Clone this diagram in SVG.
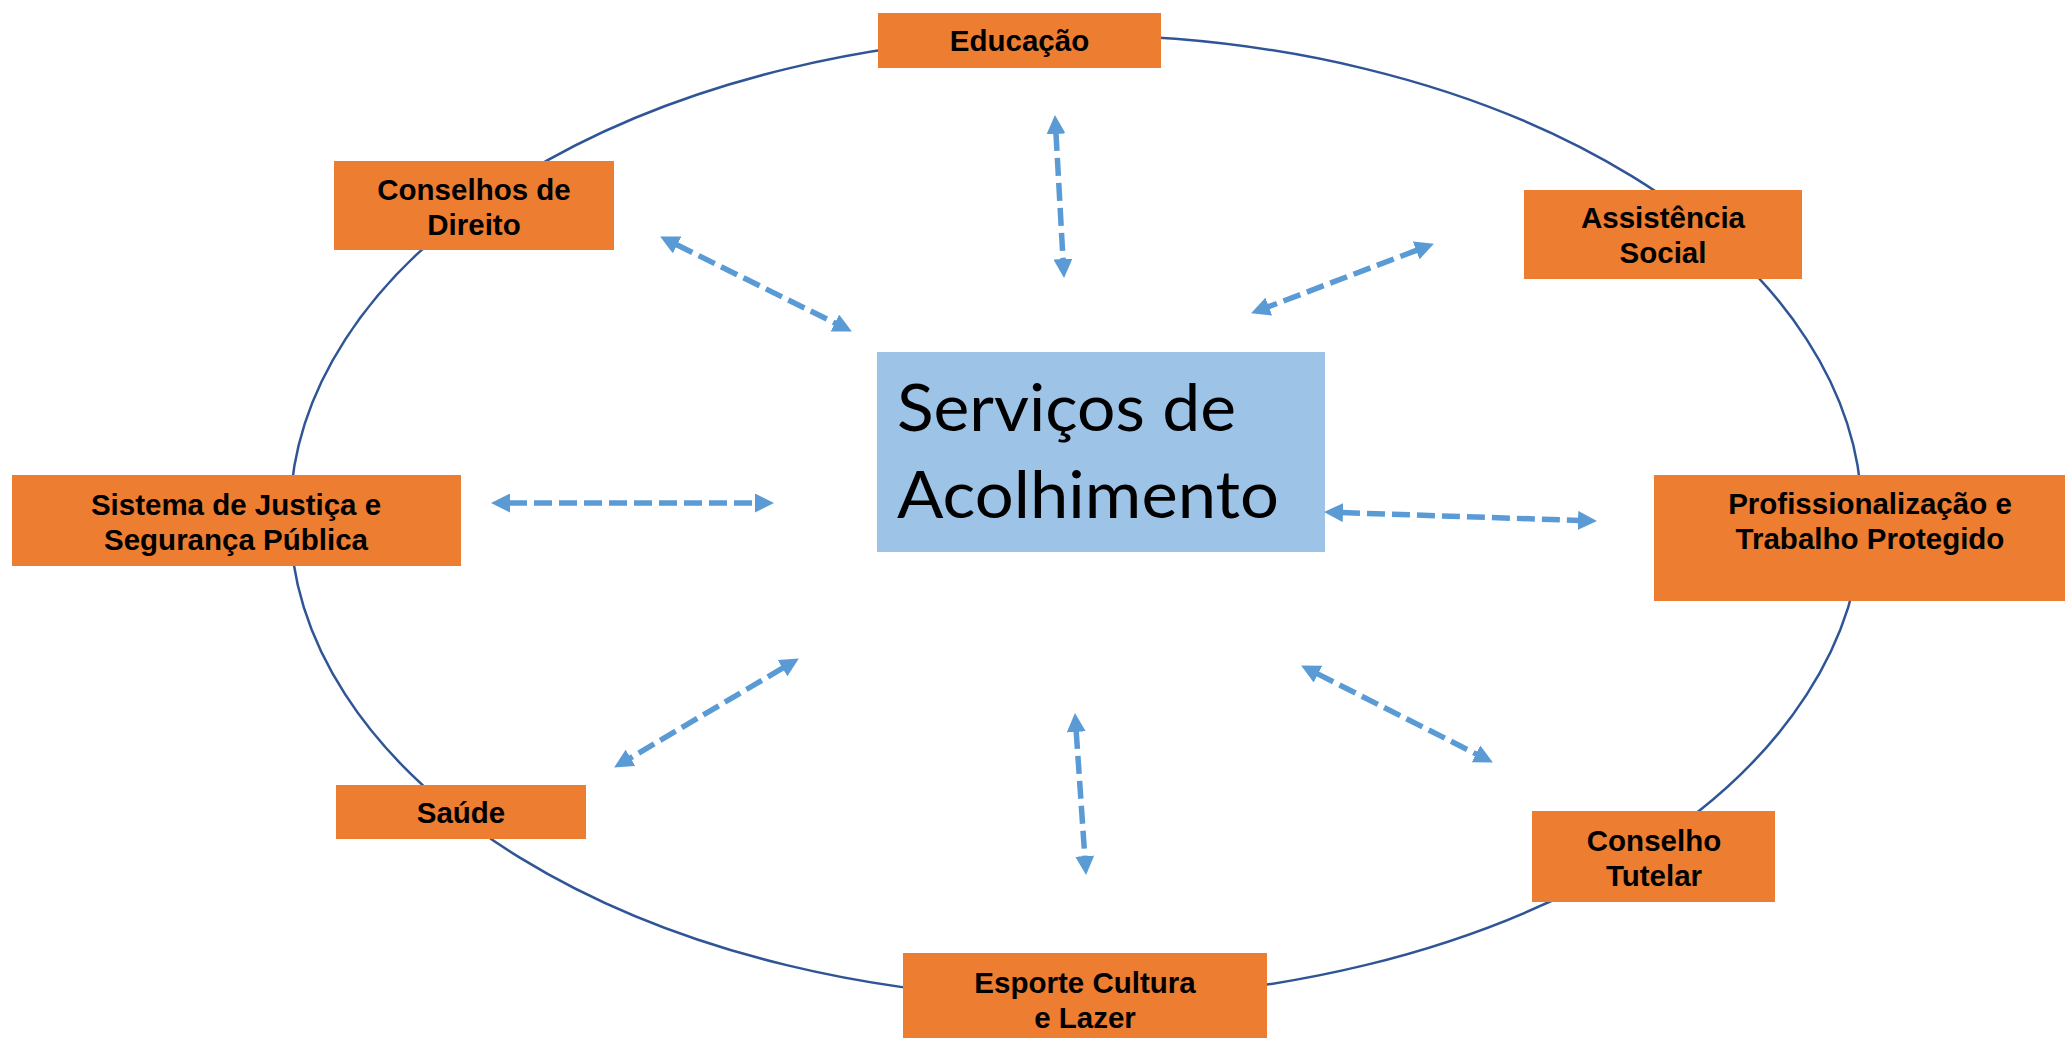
<svg xmlns="http://www.w3.org/2000/svg" width="2065" height="1038" viewBox="0 0 2065 1038">
  <style>
    .box { fill: #ED7D31; }
    .lbl { font-family: "Liberation Sans", Arial, sans-serif; font-weight: bold; font-size: 29.5px; fill: #000; text-anchor: middle; }
    .center { fill: #9DC3E6; }
    .ctext { font-family: Lato, "Open Sans", sans-serif; font-size: 66px; fill: #000; }
    .ring { fill: none; stroke: #2F5597; stroke-width: 2.5; }
    .conn { fill: none; stroke: #5B9BD5; stroke-width: 5.5; stroke-dasharray: 18 7; marker-start: url(#head); marker-end: url(#head); }
  </style>
  <defs>
    <marker id="head" markerUnits="userSpaceOnUse" markerWidth="19" markerHeight="19" refX="1" refY="9.5" orient="auto-start-reverse">
      <path d="M0,0 L19,9.5 L0,19 z" fill="#5B9BD5"/>
    </marker>
  </defs>
  <rect width="2065" height="1038" fill="#FFFFFF"/>

  <ellipse class="ring" cx="1076" cy="517" rx="786" ry="482"/>

  <g id="servicos">
    <rect class="center" x="877" y="352" width="448" height="200"/>
    <text class="ctext" x="897" y="431" textLength="339" lengthAdjust="spacingAndGlyphs">Serviços de</text>
    <text class="ctext" x="897" y="518" textLength="382" lengthAdjust="spacingAndGlyphs">Acolhimento</text>
  </g>

  <g id="educacao">
    <rect class="box" x="878" y="13" width="283" height="55"/>
    <text class="lbl" x="1019.5" y="51">Educação</text>
  </g>

  <g id="conselhos-direito">
    <rect class="box" x="334" y="161" width="280" height="89"/>
    <text class="lbl" x="474" y="200">Conselhos de</text>
    <text class="lbl" x="474" y="235">Direito</text>
  </g>

  <g id="assistencia">
    <rect class="box" x="1524" y="190" width="278" height="89"/>
    <text class="lbl" x="1663" y="228">Assistência</text>
    <text class="lbl" x="1663" y="263">Social</text>
  </g>

  <g id="sistema-justica">
    <rect class="box" x="12" y="475" width="449" height="91"/>
    <text class="lbl" x="236" y="515">Sistema de Justiça e</text>
    <text class="lbl" x="236" y="550">Segurança Pública</text>
  </g>

  <g id="profissionalizacao">
    <rect class="box" x="1654" y="475" width="411" height="126"/>
    <text class="lbl" x="1870" y="514">Profissionalização e</text>
    <text class="lbl" x="1870" y="549">Trabalho Protegido</text>
  </g>

  <g id="saude">
    <rect class="box" x="336" y="785" width="250" height="54"/>
    <text class="lbl" x="461" y="823">Saúde</text>
  </g>

  <g id="conselho-tutelar">
    <rect class="box" x="1532" y="811" width="243" height="91"/>
    <text class="lbl" x="1654" y="851">Conselho</text>
    <text class="lbl" x="1654" y="886">Tutelar</text>
  </g>

  <g id="esporte">
    <rect class="box" x="903" y="953" width="364" height="85"/>
    <text class="lbl" x="1085" y="993">Esporte Cultura</text>
    <text class="lbl" x="1085" y="1028">e Lazer</text>
  </g>

  <g id="connectors">
    <line class="conn" x1="1055.95" y1="132.97" x2="1063.05" y2="260.03"/>
    <line class="conn" x1="676.24" y1="244.54" x2="835.76" y2="323.46"/>
    <line class="conn" x1="1417.12" y1="250.06" x2="1267.88" y2="306.94"/>
    <line class="conn" x1="509" y1="503" x2="756" y2="503"/>
    <line class="conn" x1="1341.99" y1="512.56" x2="1579.01" y2="520.44"/>
    <line class="conn" x1="783.36" y1="667.64" x2="629.64" y2="758.36"/>
    <line class="conn" x1="1076.17" y1="730.96" x2="1084.83" y2="857.04"/>
    <line class="conn" x1="1317.17" y1="673.67" x2="1476.83" y2="754.33"/>
  </g>
</svg>
